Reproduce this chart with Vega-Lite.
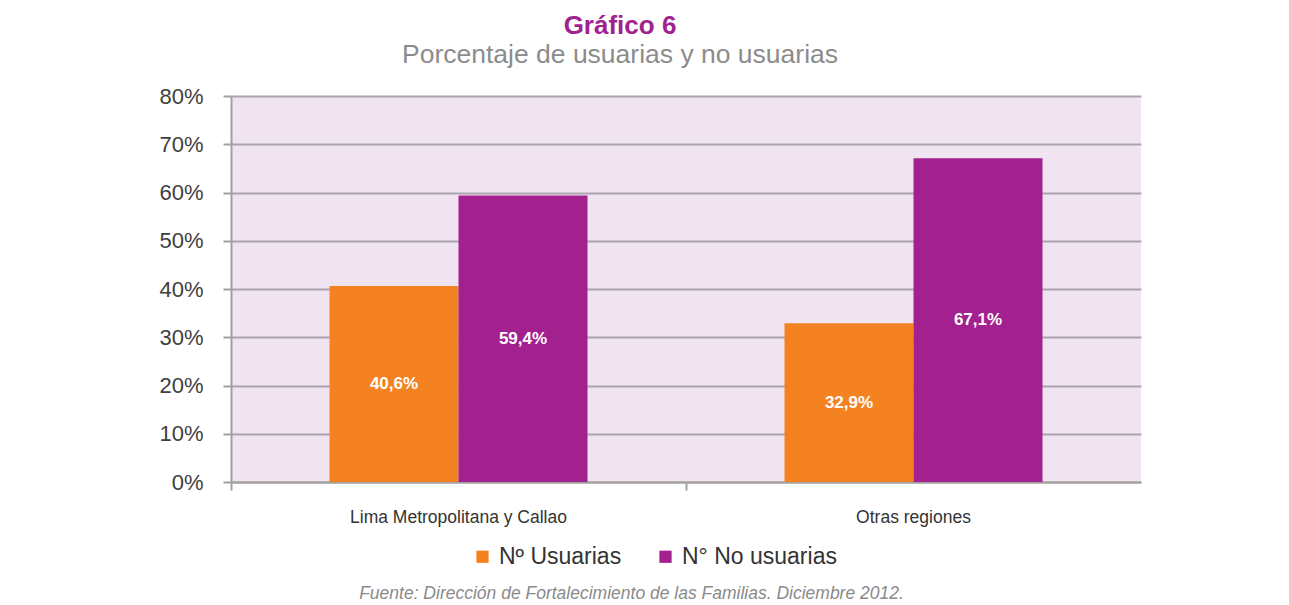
{
  "$schema": "https://vega.github.io/schema/vega-lite/v6.json",
  "width": 910,
  "height": 386,
  "autosize": {"type": "none"},
  "padding": {"left": 231, "top": 96, "right": 148, "bottom": 123},
  "background": "white",
  "config": {
    "locale": {"number": {"decimal": ",", "thousands": ".", "grouping": [3], "currency": ["", " €"]}},
    "view": {"fill": "#F0E4F1", "stroke": null},
    "font": "Liberation Sans"
  },
  "title": {
    "text": "Gráfico 6",
    "subtitle": "Porcentaje de usuarias y no usuarias",
    "anchor": "middle",
    "dx": -66,
    "offset": 17,
    "font": "Liberation Sans",
    "fontSize": 26,
    "fontWeight": "bold",
    "color": "#A0228F",
    "subtitleFont": "Liberation Sans",
    "subtitleFontSize": 26.5,
    "subtitleColor": "#8C8C8C",
    "subtitlePadding": 3
  },
  "data": {
    "values": [
      {"region": "Lima Metropolitana y Callao", "grupo": "Nº Usuarias", "pct": 0.406},
      {"region": "Lima Metropolitana y Callao", "grupo": "N° No usuarias", "pct": 0.594},
      {"region": "Otras regiones", "grupo": "Nº Usuarias", "pct": 0.329},
      {"region": "Otras regiones", "grupo": "N° No usuarias", "pct": 0.671}
    ]
  },
  "encoding": {
    "x": {
      "field": "region",
      "type": "nominal",
      "sort": ["Lima Metropolitana y Callao", "Otras regiones"],
      "scale": {"paddingInner": 0, "paddingOuter": 0},
      "axis": {
        "title": "Fuente: Dirección de Fortalecimiento de las Familias. Diciembre 2012.",
        "titleFontStyle": "italic",
        "titleFontWeight": "normal",
        "titleColor": "#8A8A8A",
        "titleFontSize": 17.5,
        "titleX": 400,
        "titleY": 111,
        "titleBaseline": "middle",
        "titleAlign": "center",
        "labelAngle": 0,
        "labelLimit": 0,
        "labelFontSize": 17.5,
        "labelColor": "#333333",
        "labelPadding": 18,
        "tickSize": 8,
        "tickColor": "#A0A0A0",
        "tickWidth": 2,
        "bandPosition": 0,
        "domainColor": "#A0A0A0",
        "domainWidth": 2,
        "grid": false
      }
    },
    "xOffset": {
      "field": "grupo",
      "type": "nominal",
      "sort": ["Nº Usuarias", "N° No usuarias"],
      "scale": {"paddingInner": 0, "paddingOuter": 0.7636}
    }
  },
  "layer": [
    {
      "mark": {"type": "bar"},
      "encoding": {
        "y": {
          "field": "pct",
          "type": "quantitative",
          "scale": {"domain": [0, 0.8], "nice": false},
          "axis": {
            "title": null,
            "format": ".0%",
            "values": [0, 0.1, 0.2, 0.3, 0.4, 0.5, 0.6, 0.7, 0.8],
            "grid": true,
            "gridColor": "#ABA3AF",
            "gridWidth": 2,
            "domainColor": "#A0A0A0",
            "domainWidth": 2,
            "tickColor": "#A0A0A0",
            "tickWidth": 2,
            "tickSize": 8,
            "labelFontSize": 22,
            "labelColor": "#404040",
            "labelPadding": 20
          }
        },
        "color": {
          "field": "grupo",
          "type": "nominal",
          "sort": ["Nº Usuarias", "N° No usuarias"],
          "scale": {"domain": ["Nº Usuarias", "N° No usuarias"], "range": ["#F58220", "#A3208F"]},
          "legend": {
            "title": null,
            "orient": "none",
            "legendX": 240,
            "legendY": 449,
            "direction": "horizontal",
            "symbolType": "square",
            "symbolSize": 150,
            "symbolStrokeWidth": 0,
            "labelFontSize": 23,
            "labelColor": "#333333",
            "labelOffset": 5,
            "columnPadding": 32
          }
        }
      }
    },
    {
      "mark": {"type": "text", "color": "white", "fontWeight": "bold", "fontSize": 17, "baseline": "middle"},
      "encoding": {
        "y": {"field": "pct", "type": "quantitative", "scale": {"domain": [0, 1.6], "nice": false}, "axis": null},
        "text": {"field": "pct", "type": "quantitative", "format": ".1%"}
      }
    }
  ],
  "resolve": {"scale": {"y": "independent"}}
}
